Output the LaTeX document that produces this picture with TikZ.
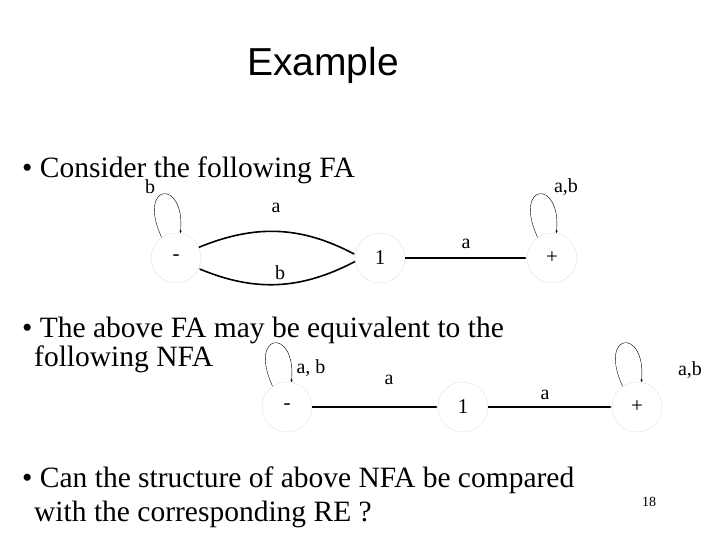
\documentclass[tikz,border=0pt]{standalone}
\usepackage{fontspec}
\setmainfont{Liberation Serif}
\newfontfamily\titlefont{Liberation Sans}
\usetikzlibrary{arrows.meta}
\tikzset{>={Latex[length=2.5pt,width=2.5pt]}}
\tikzstyle{S} = [circle,draw=black!12,minimum size=50pt,inner sep=0pt,font=\fontsize{21}{21}\selectfont]
\tikzstyle{lbl} = [font=\fontsize{20}{20}\selectfont,inner sep=0pt]
\tikzstyle{txt} = [font=\fontsize{29.5}{29.5}\selectfont,anchor=base west,inner sep=0pt]
\tikzstyle{E} = [->,line width=1.6pt]
\begin{document}
\begin{tikzpicture}[x=1pt,y=-1pt]
  \useasboundingbox (0,0) rectangle (720,540);
  \node [font=\titlefont\fontsize{39}{39}\selectfont] (title) at (323,65) {Example};

  \node [txt] (t1) at (22,178) {\textbullet\ Consider the following FA};
  \node [txt] (t2) at (22,337) {\textbullet\ The above FA may be equivalent to the};
  \node [txt] (t3) at (34,366) {following NFA};
  \node [txt] (t4) at (22,487) {\textbullet\ Can the structure of above NFA be compared};
  \node [txt] (t5) at (34,521) {with the corresponding RE ?};
  \node [font=\fontsize{14}{14}\selectfont] (pg) at (649,502) {18};

  % first FA
  \node [S] (m) at (176,258) {-};
  \node [S] (q1) at (380,258) {1};
  \node [S] (p) at (552,258) {+};
  \draw [E] (m.25) to [bend left=25] (q1.172);
  \draw [E] (q1.188) to [bend left=25] (m.-25);
  \draw [E] (q1) -- node [lbl,above=9pt] {a} (p);
  \draw [->] (m.125) .. controls +(-25,-55) and +(5,-55) .. (m.80);
  \draw [->] (p.125) .. controls +(-25,-55) and +(5,-55) .. (p.80);
  \node [lbl] (l1) at (150,187) {b};
  \node [lbl] (l2) at (566,187) {a,b};
  \node [lbl] (l5) at (276,208) {a};
  \node [lbl] (l6) at (280,273) {b};

  % NFA
  \node [S] (n0) at (287,407) {-};
  \node [S] (n1) at (463,407) {1};
  \node [S] (n2) at (637,407) {+};
  \draw [E] (n0) -- (n1);
  \draw [E] (n1) -- (n2);
  \draw [->] (n0.125) .. controls +(-25,-55) and +(5,-55) .. (n0.80);
  \draw [->] (n2.125) .. controls +(-25,-55) and +(5,-55) .. (n2.80);
  \node [lbl] (l3) at (311,368) {a, b};
  \node [lbl] (l4) at (690,370) {a,b};
  \node [lbl] (l7) at (389,380) {a};
  \node [lbl] (l8) at (545,395) {a};
\end{tikzpicture}
\end{document}
